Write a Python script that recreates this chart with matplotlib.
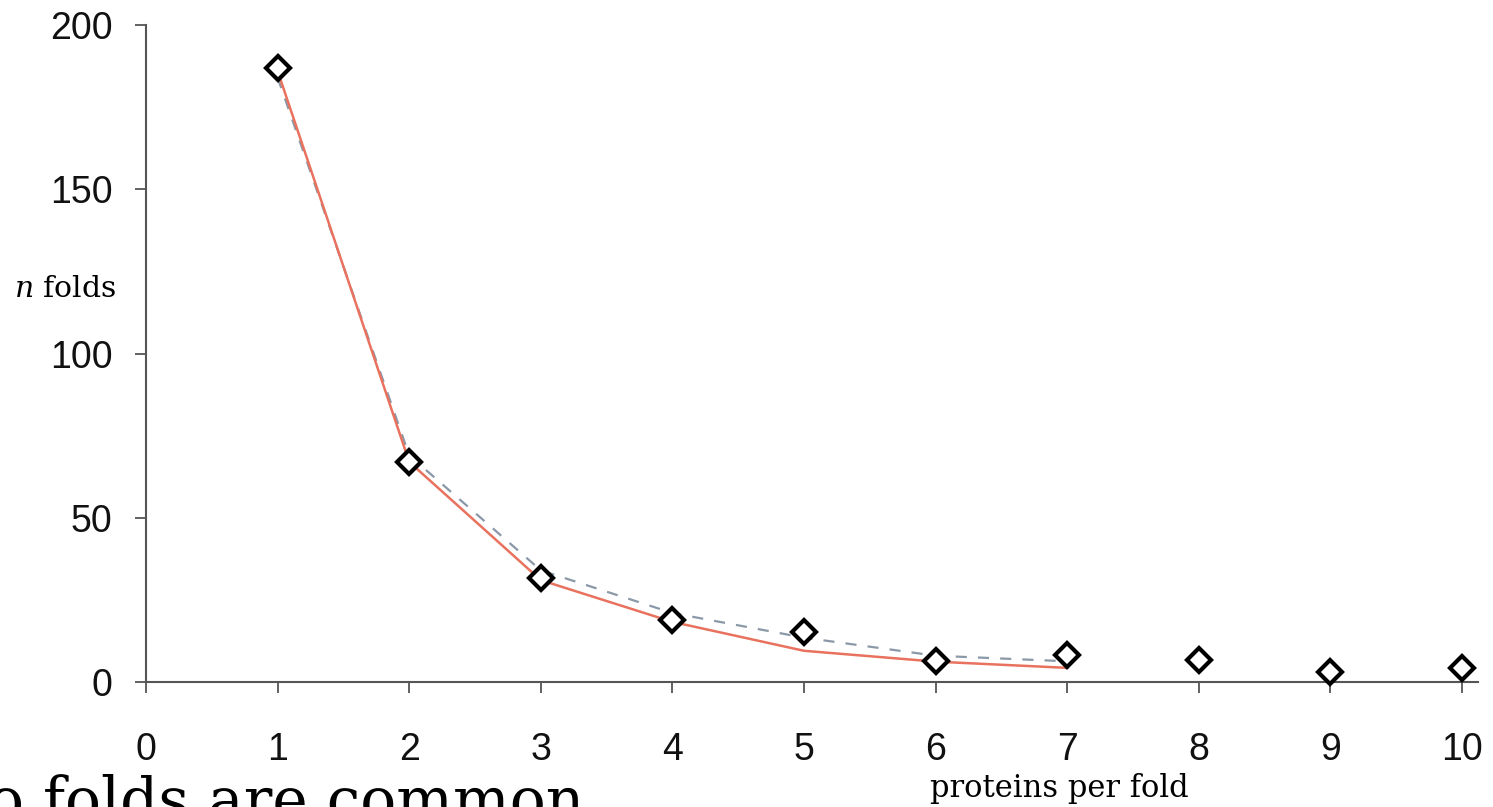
import matplotlib
matplotlib.use("Agg")
import matplotlib.pyplot as plt

# Data
x_points = [1, 2, 3, 4, 5, 6, 7, 8, 9, 10]
n_folds = [187, 67, 31.6, 19, 15.1, 6.3, 8.3, 6.8, 3.1, 4.4]

x_fit = [1, 2, 3, 4, 5, 6, 7]
fit_red = [186, 67, 31, 18.3, 9.5, 6.2, 4.3]
fit_dashed = [184, 69, 34, 21, 13.5, 8.0, 6.3]

x_ticks = [0, 1, 2, 3, 4, 5, 6, 7, 8, 9, 10]
y_ticks = [0, 50, 100, 150, 200]

plt.rcParams['mathtext.fontset'] = 'dejavuserif'

fig = plt.figure(figsize=(14.93, 8.07), dpi=100)
ax = fig.add_axes([0.0978, 0.1549, 0.892, 0.8141])

ax.plot(x_fit, fit_dashed, color='#8a98a8', lw=1.6, ls=(0, (5, 5)), zorder=2)
ax.plot(x_fit, fit_red, color='#e8725e', lw=1.8, zorder=3)
ax.plot(x_points, n_folds, ls='none', marker='D', markersize=12.5,
        markerfacecolor='white', markeredgecolor='black', markeredgewidth=3.0,
        zorder=4, clip_on=False)

ax.set_xlim(0, 10.12)
ax.set_ylim(0, 200)
ax.set_xticks(x_ticks)
ax.set_yticks(y_ticks)

for s in ['top', 'right']:
    ax.spines[s].set_visible(False)
for s in ['left', 'bottom']:
    ax.spines[s].set_color('#555555')
    ax.spines[s].set_linewidth(1.5)

ax.tick_params(axis='both', direction='out', length=8, width=1.3, color='#555555',
               labelsize=27, labelcolor='#111111')
ax.tick_params(axis='y', pad=16)
ax.tick_params(axis='x', pad=28)
for lab in ax.get_xticklabels() + ax.get_yticklabels():
    lab.set_fontfamily('Liberation Sans')

fig.text(0.0094, 0.642, r'$n$ folds', fontsize=21.5, family='DejaVu Serif',
         ha='left', va='center')
fig.text(0.623, 0.0125, 'proteins per fold', fontsize=22, family='DejaVu Serif',
         ha='left', va='baseline')
fig.text(-0.008, -0.0165, 'o folds are common', fontsize=43, family='DejaVu Serif',
         ha='left', va='baseline')

fig.savefig('out.png', dpi=100)
